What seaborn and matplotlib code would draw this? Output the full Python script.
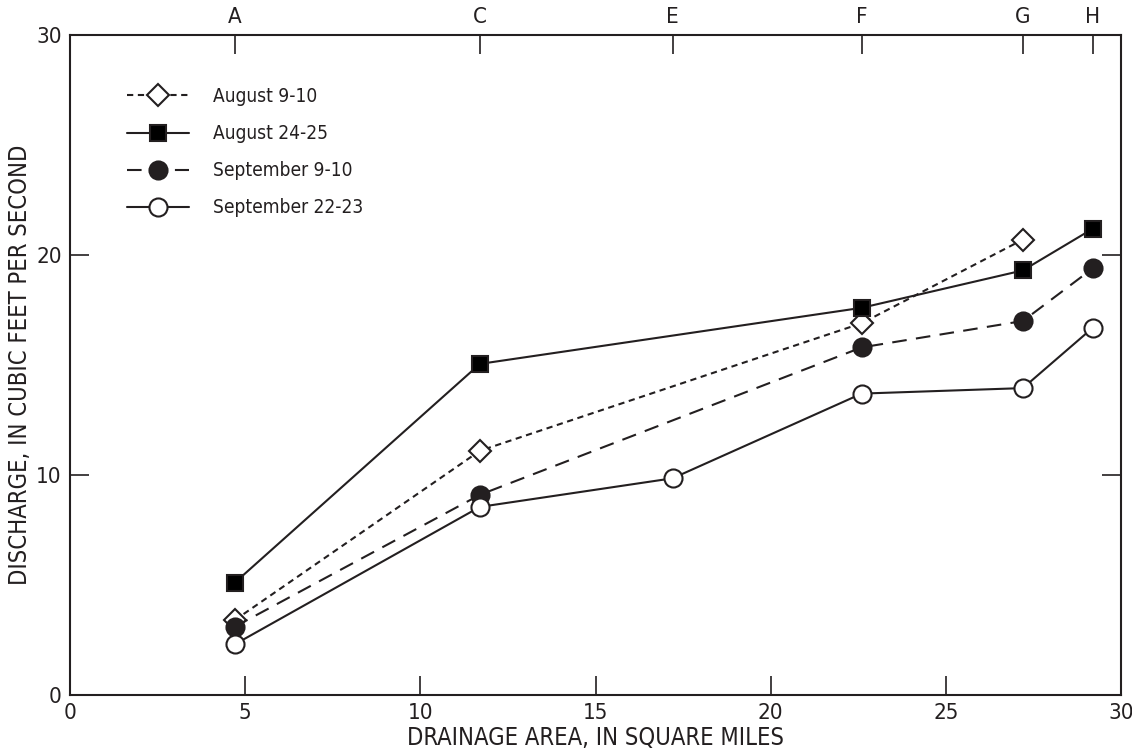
import matplotlib.pyplot as plt
import numpy as np
import pandas as pd
import seaborn as sb
from matplotlib.ticker import FixedLocator

# Station drainage areas (square miles) and names
station_names = ["A", "C", "E", "F", "G", "H"]
station_area = [4.7, 11.7, 17.2, 22.6, 27.2, 29.2]

# Discharge, cubic feet per second
aug_9_x = [4.7, 11.7, 22.6, 27.2]
aug_9_y = [3.4, 11.1, 16.9, 20.7]

aug_24_x = [4.7, 11.7, 22.6, 27.2, 29.2]
aug_24_y = [5.1, 15.05, 17.6, 19.3, 21.2]

sep_9_x = [4.7, 11.7, 22.6, 27.2, 29.2]
sep_9_y = [3.1, 9.1, 15.8, 17.0, 19.4]

sep_22_x = [4.7, 11.7, 17.2, 22.6, 27.2, 29.2]
sep_22_y = [2.3, 8.55, 9.85, 13.7, 13.95, 16.7]

if __name__ == "__main__":
    sb.set_theme(style="ticks")
    plt.rcParams["font.family"] = ["Liberation Sans Narrow", "DejaVu Sans"]
    plt.rcParams["font.stretch"] = "condensed"

    fig = plt.figure(figsize=(11.32, 7.52), dpi=100)
    ax = fig.add_axes([70 / 1132, 57 / 752, 1051 / 1132, 660 / 752])

    series = [
        ("August 9-10", aug_9_x, aug_9_y, "D", "white", (0, (3, 2.2)), 11),
        ("August 24-25", aug_24_x, aug_24_y, "s", "black", "-", 12),
        ("September 9-10", sep_9_x, sep_9_y, "o", "#231f20", (0, (7, 4.5)), 13),
        ("September 22-23", sep_22_x, sep_22_y, "o", "white", "-", 13),
    ]
    for label, xs, ys, mk, fc, ls, ms in series:
        df = pd.DataFrame({"area": xs, "q": ys})
        sb.lineplot(data=df, x="area", y="q", ax=ax, color="#231f20", linewidth=1.5,
                    linestyle=ls, marker=mk, markersize=ms, markerfacecolor=fc,
                    markeredgecolor="#231f20", markeredgewidth=1.5, label=label)

    ax.set_xlim(0, 30)
    ax.set_ylim(0, 30)
    ax.set_xticks([0, 5, 10, 15, 20, 25, 30])
    ax.set_yticks([0, 10, 20, 30])
    ax.tick_params(axis="both", direction="in", length=14, width=1.2, labelsize=16,
                   colors="#231f20", right=True, pad=6)
    for s in ax.spines.values():
        s.set_linewidth(1.5)
        s.set_color("#231f20")

    top = ax.secondary_xaxis("top")
    top.xaxis.set_major_locator(FixedLocator(station_area))
    top.set_xticklabels(station_names)
    top.tick_params(direction="in", length=14, width=1.2, labelsize=16, colors="#231f20", pad=6)

    ax.set_xlabel("DRAINAGE AREA, IN SQUARE MILES", fontsize=17, color="#231f20", labelpad=2)
    ax.set_ylabel("DISCHARGE, IN CUBIC FEET PER SECOND", fontsize=17, color="#231f20", labelpad=3)

    ax.legend(loc="upper left", bbox_to_anchor=(0.054, 0.921), frameon=False, fontsize=13.7,
              handlelength=3.25, handletextpad=1.3, labelspacing=0.95,
              borderpad=0, borderaxespad=0, labelcolor="#231f20")

    fig.savefig("out.png", dpi=100)
